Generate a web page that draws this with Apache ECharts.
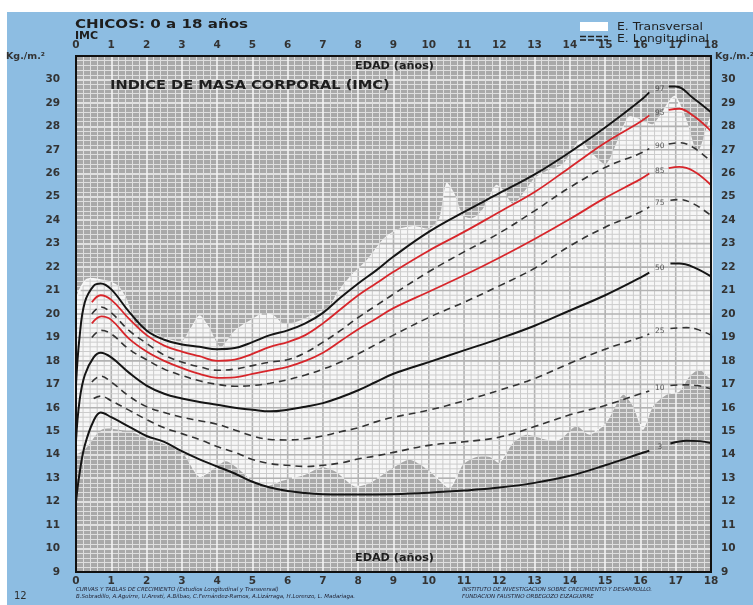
<!DOCTYPE html>
<html><head><meta charset="utf-8">
<script src="https://cdn.jsdelivr.net/npm/echarts@6/dist/echarts.min.js"></script>
<style>html,body{margin:0;padding:0;background:#fff}#c{width:753px;height:605px}</style>
</head><body><div id="c"></div>
<script>
// ---- data (age in years, BMI kg/m2) ----
const xTicks = [0,1,2,3,4,5,6,7,8,9,10,11,12,13,14,15,16,17,18];
const percentileNames = ['97','95','90','85','75','50','25','10','3'];
const p97 = [[0,17.0],[0.1,19.0],[0.25,20.5],[0.5,21.2],[0.7,21.3],[1,21.05],[1.5,20.1],[2,19.3],[2.5,18.9],[3,18.7],[3.5,18.6],[4,18.5],[4.5,18.55],[5,18.8],[5.5,19.1],[6,19.3],[6.5,19.6],[7,20.05],[7.5,20.7],[8,21.3],[8.5,21.85],[9,22.45],[10,23.5],[11,24.35],[12,25.15],[13,25.95],[14,26.9],[15,27.95],[16,29.1],[16.25,29.45],[16.55,'-'],[16.8,29.7],[17,29.7],[17.5,29.2],[18,28.6]];
const p95 = [[0.45,20.5],[0.7,20.8],[1,20.6],[1.5,19.8],[2,19.1],[2.5,18.65],[3,18.4],[3.5,18.2],[4,18.0],[4.5,18.05],[5,18.3],[5.5,18.6],[6,18.8],[6.5,19.1],[7,19.6],[7.5,20.2],[8,20.8],[8.5,21.3],[9,21.8],[10,22.7],[11,23.5],[12,24.35],[13,25.2],[14,26.25],[15,27.3],[16,28.2],[16.25,28.47],[16.55,'-'],[16.8,28.7],[17.1,28.75],[17.5,28.45],[18,27.8]];
const p90 = [[0.45,20.0],[0.7,20.3],[1,20.05],[1.5,19.3],[2,18.75],[2.5,18.25],[3,17.95],[3.5,17.75],[4,17.6],[4.5,17.65],[5,17.8],[5.5,17.95],[6,18.05],[6.5,18.35],[7,18.8],[7.5,19.3],[8,19.85],[8.5,20.35],[9,20.85],[10,21.8],[11,22.65],[12,23.45],[13,24.4],[14,25.4],[15,26.25],[16,26.85],[16.25,27.05],[16.55,'-'],[16.8,27.25],[17.1,27.3],[17.5,27.1],[18,26.5]];
const p85 = [[0.45,19.6],[0.72,19.9],[1,19.75],[1.5,18.95],[2,18.4],[2.5,18.0],[3,17.7],[3.5,17.45],[4,17.28],[4.5,17.3],[5,17.45],[5.5,17.6],[6,17.75],[6.5,18.0],[7,18.35],[7.5,18.85],[8,19.35],[8.5,19.8],[9,20.25],[10,20.95],[11,21.65],[12,22.4],[13,23.2],[14,24.05],[15,24.95],[16,25.75],[16.25,25.99],[16.55,'-'],[16.8,26.22],[17.1,26.27],[17.5,26.1],[18,25.5]];
const p75 = [[0.45,19.0],[0.72,19.3],[1,19.15],[1.5,18.5],[2,18.05],[2.5,17.65],[3,17.38],[3.5,17.15],[4,17.0],[4.5,16.92],[5,16.95],[5.5,17.05],[6,17.2],[6.5,17.4],[7,17.65],[7.5,17.95],[8,18.3],[8.5,18.7],[9,19.1],[10,19.85],[11,20.5],[12,21.2],[13,21.95],[14,22.9],[15,23.7],[16,24.35],[16.25,24.57],[16.55,'-'],[16.85,24.85],[17.1,24.88],[17.5,24.7],[18,24.2]];
const p50 = [[0,14.6],[0.1,16.3],[0.25,17.4],[0.5,18.15],[0.7,18.35],[1,18.15],[1.5,17.5],[2,16.95],[2.5,16.6],[3,16.4],[3.5,16.25],[4,16.13],[4.5,16.0],[5,15.92],[5.5,15.85],[6,15.92],[6.5,16.05],[7,16.2],[7.5,16.45],[8,16.75],[8.5,17.1],[9,17.45],[10,17.95],[11,18.45],[12,18.95],[13,19.5],[14,20.15],[15,20.8],[16,21.55],[16.25,21.76],[16.55,'-'],[16.85,22.15],[17.1,22.15],[17.5,22.0],[18,21.6]];
const p25 = [[0.45,17.1],[0.7,17.35],[1,17.1],[1.5,16.5],[2,16.05],[2.5,15.8],[3,15.6],[3.5,15.45],[4,15.3],[4.5,15.05],[5,14.8],[5.5,14.65],[6,14.63],[6.5,14.68],[7,14.8],[7.5,14.98],[8,15.15],[8.5,15.4],[9,15.6],[10,15.9],[11,16.3],[12,16.75],[13,17.25],[14,17.9],[15,18.5],[16,19.0],[16.25,19.15],[16.55,'-'],[16.85,19.38],[17.3,19.42],[17.6,19.35],[18,19.1]];
const p10 = [[0.5,16.4],[0.7,16.5],[1,16.3],[1.5,15.9],[2,15.5],[2.5,15.15],[3,14.9],[3.5,14.65],[4,14.35],[4.5,14.1],[5,13.8],[5.5,13.62],[6,13.55],[6.5,13.5],[7,13.55],[7.5,13.65],[8,13.82],[8.5,13.95],[9,14.1],[10,14.4],[11,14.55],[12,14.75],[13,15.2],[14,15.7],[15,16.1],[16,16.6],[16.25,16.72],[16.55,'-'],[16.85,16.95],[17.2,16.98],[17.6,16.95],[18,16.8]];
const p3 = [[0,12.0],[0.1,13.2],[0.25,14.4],[0.5,15.45],[0.7,15.8],[1,15.6],[1.5,15.2],[2,14.8],[2.5,14.55],[3,14.15],[3.5,13.8],[4,13.5],[4.5,13.2],[5,12.85],[5.5,12.6],[6,12.45],[6.5,12.37],[7,12.32],[7.5,12.3],[8,12.3],[9,12.32],[10,12.38],[11,12.47],[12,12.6],[13,12.8],[14,13.1],[15,13.55],[16,14.05],[16.25,14.17],[16.55,'-'],[16.85,14.48],[17.3,14.6],[17.7,14.58],[18,14.5]];
// transversal study band (white area): upper and lower limits
const bandUpper = [[0,20.6],[0.3,21.5],[0.95,21.4],[1.2,21.2],[1.45,20.6],[1.72,19.5],[2.1,19.25],[2.5,19.0],[3,18.85],[3.25,19.4],[3.5,19.95],[3.75,19.5],[4.1,18.6],[4.5,19.3],[5,19.8],[5.3,20.03],[5.6,19.95],[5.87,19.6],[6.25,19.67],[6.82,20.05],[7.2,20.35],[7.39,20.88],[7.76,21.59],[8.24,22.3],[8.71,23.2],[9.09,23.6],[9.56,23.75],[10.03,23.65],[10.3,24.1],[10.5,25.6],[10.74,25.1],[10.97,24.2],[11.26,24.1],[11.54,24.5],[11.9,25.5],[12.1,25.3],[12.4,24.7],[13,25.8],[13.33,26.1],[13.8,26.4],[14.28,27.4],[14.6,26.9],[15.03,26.4],[15.65,28.4],[16,28.3],[16.36,28.1],[16.96,29.3],[17.3,28.3],[17.62,26.9],[18,28.4]];
const bandLower = [[0,14.07],[0.28,14.28],[0.75,15.09],[1.6,14.95],[2.08,14.64],[2.55,14.43],[3.02,14.07],[3.49,13.05],[3.87,13.36],[4.25,13.72],[4.63,13.36],[5,12.87],[5.38,12.65],[5.87,12.9],[6.5,13.15],[6.97,13.47],[7.35,13.29],[7.9,12.65],[8.33,12.79],[8.9,13.36],[9.46,13.79],[10.03,13.29],[10.6,12.58],[10.97,13.57],[11.35,13.9],[11.73,13.9],[12.01,13.65],[12.39,14.5],[12.77,14.85],[13.33,14.64],[13.71,14.64],[14.18,15.21],[14.56,14.85],[15.03,15.35],[15.5,16.55],[15.79,16.06],[16.07,15.06],[16.36,16.06],[16.73,16.55],[17.11,16.7],[17.39,17.33],[17.68,17.62],[18,17.26]];

const curves = [p97,p95,p90,p85,p75,p50,p25,p10,p3];
const styles = {
  '97':{c:'#151515',w:2,t:'solid'}, '95':{c:'#d7262b',w:1.8,t:'solid'}, '90':{c:'#333333',w:1.6,t:[7,5]},
  '85':{c:'#d7262b',w:1.8,t:'solid'}, '75':{c:'#333333',w:1.6,t:[7,5]}, '50':{c:'#151515',w:2,t:'solid'},
  '25':{c:'#333333',w:1.6,t:[7,5]}, '10':{c:'#333333',w:1.6,t:[7,5]}, '3':{c:'#151515',w:2,t:'solid'}
};

const FONT = '"DejaVu Sans", "Liberation Sans", Arial, sans-serif';
const chart = echarts.init(document.getElementById('c'), null, {renderer:'canvas'});

function crossings(poly, c, axis){
  const o = 1-axis, hits = [];
  for (let i=0;i<poly.length;i++){
    const a = poly[i], b = poly[(i+1)%poly.length];
    if ((a[axis] <= c) !== (b[axis] <= c)) {
      const t = (c-a[axis])/(b[axis]-a[axis]);
      hits.push(a[o] + t*(b[o]-a[o]));
    }
  }
  hits.sort((p,q)=>p-q);
  return hits;
}

const series = [];
series.push({
  type:'custom', z:1, silent:true, data:[[0,9]],
  renderItem: function(params, api){
    const poly = bandUpper.map(p=>api.coord(p)).concat(bandLower.slice().reverse().map(p=>api.coord(p)));
    const ch = [{type:'polygon', shape:{points:poly, smooth:0.25}, style:{fill:'#f7f7f7'}}];
    for (let k=1;k<90;k++){
      const x = api.coord([k/5, 9])[0];
      const h = crossings(poly, x, 0);
      const major = k%5===0;
      for (let i=0;i+1<h.length;i+=2) ch.push({type:'line', shape:{x1:x,y1:h[i],x2:x,y2:h[i+1]}, style:{stroke: major?'#b2b2b2':'#cccccc', lineWidth: major?1.6:1}});
    }
    for (let j=1;j<110;j++){
      const y = api.coord([0, 9 + j/5])[1];
      const h = crossings(poly, y, 1);
      const major = j%5===0;
      for (let i=0;i+1<h.length;i+=2) ch.push({type:'line', shape:{x1:h[i],y1:y,x2:h[i+1],y2:y}, style:{stroke: major?'#b2b2b2':'#cccccc', lineWidth: major?1.6:1}});
    }
    return {type:'group', children: ch};
  }
});
const labelData = [];
curves.forEach((d,i)=>{
  const name = percentileNames[i], s = styles[name];
  series.push({type:'line', name:'P'+name, data:d, z:3, symbol:'none', smooth:0.4, connectNulls:false,
    lineStyle:{color:s.c, width:s.w, type:s.t}, silent:true});
  const gi = d.findIndex(p=>p[1]==='-');
  labelData.push({name:name, value:[d[gi][0], (d[gi-1][1]+d[gi+1][1])/2]});
});
series.push({type:'scatter', z:4, symbolSize:0, silent:true, data:labelData,
  label:{show:true, position:'inside', formatter:'{b}', fontSize:7.5, color:'#333', fontFamily:FONT}});

const axLabel = {fontFamily:FONT, fontWeight:'bold', fontSize:10.5, color:'#333333'};
chart.setOption({
  backgroundColor:'#ffffff',
  animation:false,
  grid:{left:76, right:42, top:56, bottom:33, show:true, backgroundColor:'#a9a9a9', borderWidth:0},
  xAxis:[
    {type:'value', position:'bottom', min:0, max:18, interval:1, axisLine:{show:false}, axisTick:{show:false},
     axisLabel:Object.assign({margin:4}, axLabel),
     splitLine:{show:true, lineStyle:{color:'#f4f4f4', width:1.6}},
     minorTick:{show:false, splitNumber:5}, minorSplitLine:{show:true, lineStyle:{color:'#dfdfdf', width:1}}},
    {type:'value', position:'top', min:0, max:18, interval:1, axisLine:{show:false}, axisTick:{show:false},
     axisLabel:Object.assign({margin:5}, axLabel), splitLine:{show:false}}
  ],
  yAxis:[
    {type:'value', position:'left', min:9, max:31, interval:1, axisLine:{show:false}, axisTick:{show:false},
     axisLabel:Object.assign({margin:16, formatter:v=>v>=31?'':String(v)}, axLabel),
     splitLine:{show:true, lineStyle:{color:'#f4f4f4', width:1.6}},
     minorTick:{show:false, splitNumber:5}, minorSplitLine:{show:true, lineStyle:{color:'#dfdfdf', width:1}}},
    {type:'value', position:'right', min:9, max:31, interval:1, axisLine:{show:false}, axisTick:{show:false},
     axisLabel:Object.assign({margin:10, formatter:v=>v>=31?'':String(v)}, axLabel), splitLine:{show:false}}
  ],
  series: series
});

// frame, background and texts
const tl = chart.convertToPixel({xAxisIndex:0, yAxisIndex:0}, [0, 31]);
const br = chart.convertToPixel({xAxisIndex:0, yAxisIndex:0}, [18, 9]);
const txt = (x,y,text,font,extra,sx)=>({type:'text', x:x, y:y, z:20, scaleX:sx||1, style:Object.assign({text:text, font:font, fill:'#1e1e1e', textVerticalAlign:'middle'}, extra||{})});
chart.setOption({graphic:[
  {type:'rect', z:-10, shape:{x:7, y:12, width:746, height:593}, style:{fill:'#8dbde2'}},
  {type:'rect', z:30, shape:{x:tl[0], y:tl[1], width:br[0]-tl[0], height:br[1]-tl[1]}, style:{fill:'none', stroke:'#111', lineWidth:2}},
  txt(75, 25, 'CHICOS: 0 a 18 años', 'bold 13px '+FONT, null, 1.16),
  txt(75, 36, 'IMC', 'bold 10px '+FONT, null, 1.1),
  txt(110, 86, 'INDICE DE MASA CORPORAL (IMC)', 'bold 12.5px '+FONT, null, 1.17),
  txt(355, 66, 'EDAD (años)', 'bold 10px '+FONT, null, 1.12),
  txt(355, 558, 'EDAD (años)', 'bold 10px '+FONT, null, 1.12),
  txt(6, 57, 'Kg./m.²', 'bold 9.5px '+FONT, {fill:'#333'}),
  txt(715, 57, 'Kg./m.²', 'bold 9.5px '+FONT, {fill:'#333'}),
  {type:'rect', z:20, shape:{x:580, y:22, width:28, height:9}, style:{fill:'#ffffff'}},
  {type:'line', z:20, shape:{x1:580, y1:36.5, x2:608, y2:36.5}, style:{stroke:'#222', lineWidth:1.5, lineDash:[6,2]}},
  {type:'line', z:20, shape:{x1:580, y1:40, x2:608, y2:40}, style:{stroke:'#222', lineWidth:1.5, lineDash:[6,2]}},
  txt(617, 27, 'E. Transversal', '10.5px '+FONT, null, 1.18),
  txt(617, 39, 'E. Longitudinal', '10.5px '+FONT, null, 1.18),
  txt(14, 596, '12', '10px '+FONT, {fill:'#2e2e2e'}),
  txt(76, 590, 'CURVAS Y TABLAS DE CRECIMIENTO (Estudios Longitudinal y Transversal)', 'italic 5.5px '+FONT, {fill:'#223'}),
  txt(76, 597, 'B.Sobradillo, A.Aguirre, U.Aresti, A.Bilbao, C.Fernández-Ramos, A.Lizárraga, H.Lorenzo, L. Madariaga.', 'italic 5.5px '+FONT, {fill:'#223'}),
  txt(462, 590, 'INSTITUTO DE INVESTIGACION SOBRE CRECIMIENTO Y DESARROLLO.', 'italic 5.5px '+FONT, {fill:'#223'}),
  txt(462, 597, 'FUNDACION FAUSTINO ORBEGOZO EIZAGUIRRE', 'italic 5.5px '+FONT, {fill:'#223'})
]});
</script></body></html>
